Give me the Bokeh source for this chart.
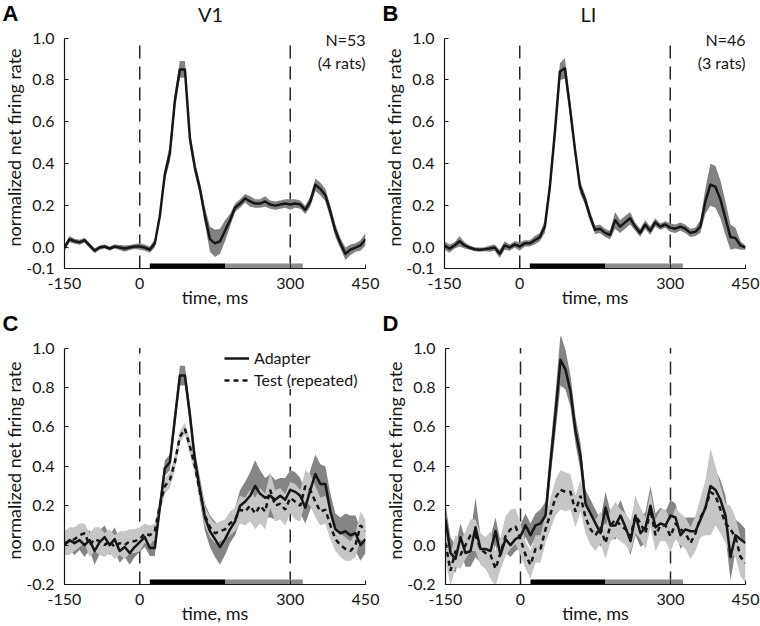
from bokeh.plotting import figure
from bokeh.layouts import row, column
from bokeh.models import Range1d, FixedTicker, NumeralTickFormatter, Label, Legend, LegendItem
from bokeh.embed import file_html
from bokeh.resources import INLINE

# ---------------- data ----------------
time_ms = list(range(-150, 451, 10))

# Panel A (V1, all responses)
v1_mean = [0.00, 0.04, 0.03, 0.025, 0.035, 0.01, -0.015, 0.0, 0.005, -0.005, 0.005, 0.0, -0.005, 0.0, 0.005,
           0.005, 0.0, -0.01, 0.02, 0.15, 0.35, 0.45, 0.70, 0.85, 0.85,
           0.52, 0.38, 0.28, 0.15, 0.04, 0.02, 0.03, 0.08, 0.13, 0.19,
           0.21, 0.235, 0.22, 0.21, 0.21, 0.22, 0.205, 0.20, 0.205, 0.21,
           0.205, 0.21, 0.205, 0.18, 0.22, 0.30, 0.28, 0.25, 0.17, 0.08,
           0.02, -0.03, -0.01, 0.0, 0.01, 0.04]
v1_sem = [0.015, 0.015, 0.012, 0.012, 0.012, 0.012, 0.012, 0.01, 0.01, 0.01, 0.01, 0.012, 0.015, 0.012, 0.012,
          0.015, 0.015, 0.015, 0.02, 0.02, 0.03, 0.04, 0.04, 0.04, 0.04,
          0.035, 0.03, 0.03, 0.04, 0.06, 0.065, 0.06, 0.05, 0.03, 0.02,
          0.02, 0.02, 0.025, 0.02, 0.02, 0.025, 0.02, 0.02, 0.02, 0.02,
          0.025, 0.02, 0.02, 0.02, 0.025, 0.03, 0.03, 0.03, 0.03, 0.03,
          0.025, 0.03, 0.025, 0.02, 0.025, 0.03]

# Panel B (LI, all responses)
li_mean = [0.01, -0.005, 0.01, 0.03, 0.01, 0.0, -0.008, -0.01, -0.008, -0.005, 0.0, -0.03, 0.01, 0.0, 0.015,
           0.005, 0.02, 0.02, 0.035, 0.05, 0.10, 0.29, 0.55, 0.84, 0.855,
           0.67, 0.47, 0.29, 0.23, 0.15, 0.085, 0.09, 0.07, 0.06, 0.13,
           0.10, 0.12, 0.14, 0.10, 0.07, 0.11, 0.08, 0.12, 0.10, 0.11,
           0.095, 0.09, 0.10, 0.09, 0.07, 0.075, 0.10, 0.22, 0.30, 0.29,
           0.23, 0.14, 0.05, 0.045, 0.01, 0.0]
li_sem = [0.02, 0.02, 0.015, 0.025, 0.015, 0.01, 0.01, 0.01, 0.01, 0.015, 0.015, 0.02, 0.02, 0.015, 0.015,
          0.02, 0.015, 0.015, 0.02, 0.02, 0.03, 0.04, 0.04, 0.04, 0.05,
          0.04, 0.03, 0.03, 0.025, 0.025, 0.02, 0.02, 0.02, 0.02, 0.04,
          0.03, 0.03, 0.03, 0.02, 0.02, 0.02, 0.02, 0.02, 0.015, 0.015,
          0.02, 0.02, 0.02, 0.02, 0.02, 0.02, 0.03, 0.06, 0.10, 0.10,
          0.09, 0.08, 0.06, 0.05, 0.02, 0.01]

# Panel C (V1, adapter vs repeated test)
v1_adapter_mean = [0.0, 0.025, 0.01, 0.025, 0.0, 0.025, -0.03, 0.015, 0.04, 0.0, 0.03, -0.03, -0.01, -0.04, -0.01,
                   0.015, 0.04, -0.015, -0.015, 0.19, 0.39, 0.42, 0.64, 0.86, 0.86,
                   0.66, 0.43, 0.28, 0.14, 0.07, 0.03, -0.01, 0.03, 0.08, 0.12,
                   0.20, 0.22, 0.25, 0.30, 0.26, 0.24, 0.25, 0.23, 0.25, 0.23,
                   0.28, 0.27, 0.25, 0.19, 0.28, 0.36, 0.31, 0.31, 0.17, 0.08,
                   0.06, 0.07, 0.05, 0.06, 0.0, 0.03]
v1_adapter_sem = [0.05, 0.05, 0.06, 0.05, 0.06, 0.05, 0.07, 0.06, 0.06, 0.05, 0.06, 0.06, 0.05, 0.06, 0.05,
                  0.05, 0.05, 0.04, 0.04, 0.04, 0.04, 0.04, 0.05, 0.05, 0.05,
                  0.05, 0.05, 0.06, 0.07, 0.08, 0.09, 0.09, 0.08, 0.07, 0.07,
                  0.08, 0.10, 0.12, 0.13, 0.12, 0.10, 0.11, 0.10, 0.09, 0.11,
                  0.10, 0.10, 0.09, 0.08, 0.10, 0.10, 0.10, 0.09, 0.09, 0.08,
                  0.08, 0.09, 0.10, 0.09, 0.08, 0.07]
v1_test_mean = [0.01, 0.02, 0.03, 0.05, 0.06, 0.0, 0.03, 0.02, 0.0, 0.02, -0.01, 0.01, 0.0, 0.02, 0.02,
                0.03, 0.06, 0.05, 0.07, 0.20, 0.30, 0.33, 0.42, 0.55, 0.59,
                0.50, 0.40, 0.27, 0.15, 0.09, 0.06, 0.07, 0.08, 0.11, 0.13,
                0.18, 0.17, 0.20, 0.16, 0.20, 0.17, 0.28, 0.20, 0.21, 0.18,
                0.24, 0.22, 0.20, 0.30, 0.28, 0.22, 0.17, 0.18, 0.10, 0.03,
                0.0, -0.02, -0.03, 0.0, 0.10, 0.07]
v1_test_sem = [0.06, 0.07, 0.06, 0.06, 0.05, 0.06, 0.06, 0.07, 0.06, 0.06, 0.06, 0.06, 0.07, 0.06, 0.06,
               0.06, 0.05, 0.05, 0.04, 0.04, 0.04, 0.04, 0.04, 0.03, 0.03,
               0.04, 0.04, 0.05, 0.05, 0.05, 0.05, 0.05, 0.05, 0.06, 0.06,
               0.07, 0.07, 0.08, 0.08, 0.09, 0.09, 0.09, 0.08, 0.08, 0.08,
               0.08, 0.09, 0.08, 0.08, 0.08, 0.08, 0.07, 0.07, 0.07, 0.06,
               0.06, 0.06, 0.05, 0.06, 0.07, 0.06]

# Panel D (LI, adapter vs repeated test)
li_adapter_mean = [0.13, -0.04, -0.07, 0.04, -0.04, -0.03, 0.09, -0.02, -0.02, -0.03, 0.07, -0.05, 0.03, 0.0, 0.03,
                   0.045, 0.10, 0.05, 0.10, 0.11, 0.15, 0.42, 0.67, 0.94, 0.89,
                   0.78, 0.58, 0.45, 0.21, 0.16, 0.11, 0.06, 0.19, 0.10, 0.10,
                   0.15, 0.09, 0.02, 0.15, 0.06, 0.09, 0.20, 0.09, 0.11, 0.10,
                   0.15, 0.14, 0.05, 0.08, 0.07, 0.07, 0.13, 0.19, 0.30, 0.28,
                   0.23, 0.15, -0.06, 0.05, 0.03, 0.01]
li_adapter_sem = [0.08, 0.08, 0.07, 0.07, 0.07, 0.08, 0.15, 0.07, 0.06, 0.07, 0.07, 0.07, 0.07, 0.06, 0.06,
                  0.06, 0.06, 0.06, 0.06, 0.07, 0.07, 0.08, 0.10, 0.13, 0.10,
                  0.08, 0.07, 0.07, 0.07, 0.07, 0.07, 0.07, 0.08, 0.07, 0.07,
                  0.08, 0.07, 0.07, 0.10, 0.07, 0.08, 0.10, 0.07, 0.08, 0.07,
                  0.08, 0.07, 0.07, 0.06, 0.07, 0.07, 0.08, 0.09, 0.10, 0.10,
                  0.10, 0.10, 0.12, 0.08, 0.08, 0.07]
li_test_mean = [0.01, -0.13, -0.03, -0.05, 0.0, 0.05, 0.05, -0.02, -0.04, -0.05, -0.12, -0.04, 0.045, 0.08, 0.095,
                0.03, -0.05, -0.10, -0.02, -0.02, 0.08, 0.16, 0.24, 0.28, 0.27,
                0.27, 0.17, 0.25, 0.14, 0.08, 0.05, 0.09, 0.01, 0.10, 0.13,
                0.10, 0.08, 0.045, 0.15, 0.11, 0.06, 0.18, 0.05, 0.10, 0.10,
                0.045, 0.11, 0.08, 0.06, 0.01, 0.06, 0.14, 0.19, 0.27, 0.25,
                0.18, 0.11, 0.08, 0.04, -0.06, -0.09]
li_test_sem = [0.08, 0.08, 0.08, 0.07, 0.07, 0.08, 0.08, 0.08, 0.08, 0.12, 0.09, 0.08, 0.10, 0.10, 0.09,
               0.08, 0.07, 0.07, 0.07, 0.07, 0.07, 0.08, 0.09, 0.10, 0.10,
               0.09, 0.08, 0.08, 0.08, 0.08, 0.08, 0.08, 0.08, 0.08, 0.09,
               0.08, 0.08, 0.08, 0.09, 0.08, 0.08, 0.09, 0.08, 0.08, 0.08,
               0.08, 0.08, 0.08, 0.08, 0.08, 0.09, 0.10, 0.14, 0.22, 0.15,
               0.12, 0.10, 0.12, 0.10, 0.10, 0.10]

event_times = [0, 300]
adapter_period = [20, 170]
test_period = [170, 325]
x_ticks = [-150, 0, 300, 450]
x_tick_labels = ["-150", "0", "300", "450"]
y_ticks_top = [-0.1, 0.0, 0.2, 0.4, 0.6, 0.8, 1.0]
y_ticks_bottom = [-0.2, 0.0, 0.2, 0.4, 0.6, 0.8, 1.0]
panel_letters = ["A", "B", "C", "D"]
area_titles = ["V1", "LI"]
cell_counts = ["N=53", "N=46"]
rat_counts = ["(4 rats)", "(3 rats)"]
legend_labels = ["Adapter", "Test (repeated)"]

# ---------------- styling ----------------
FONT = "Lato"
LETTER_FONT = "Liberation Sans"
INK = "#161616"
BAND_SINGLE = "#828282"
BAND_DARK = "#858585"
BAND_LIGHT = "#c6c6c6"
BAR_GRAY = "#8c8c8c"
BAR_PX = 5
Y_TOP = 1.0


def make_panel(width, height, ymin, yticks, bl, br, bb, top_gap):
    frame_h = height - bb
    ppu = (frame_h - top_gap) / (Y_TOP - ymin)
    ymax = Y_TOP + top_gap / ppu
    p = figure(width=width, height=height,
               x_range=Range1d(x_ticks[0], x_ticks[-1]), y_range=Range1d(ymin, ymax),
               output_backend="svg", toolbar_location=None,
               min_border_left=bl, min_border_right=br, min_border_top=0, min_border_bottom=bb)
    p.title.visible = False
    p.outline_line_color = None
    p.xgrid.visible = False
    p.ygrid.visible = False
    p.background_fill_color = "white"
    p.border_fill_color = "white"
    for ax in (p.xaxis[0], p.yaxis[0]):
        ax.axis_line_color = INK
        ax.axis_line_width = 1.2
        ax.major_tick_in = 4
        ax.major_tick_out = 0
        ax.major_tick_line_color = INK
        ax.minor_tick_line_color = None
        ax.major_label_text_font = FONT
        ax.major_label_text_font_size = "16px"
        ax.major_label_text_line_height = 1.0
        ax.major_label_text_color = INK
        ax.axis_label_text_font = FONT
        ax.axis_label_text_font_size = "18px"
        ax.axis_label_text_line_height = 1.0
        ax.axis_label_text_font_style = "normal"
        ax.axis_label_text_color = INK
    xa = p.xaxis[0]
    xa.ticker = FixedTicker(ticks=x_ticks)
    xa.major_label_overrides = dict(zip(x_ticks, x_tick_labels))
    xa.major_label_standoff = 9
    xa.axis_label = "time, ms"
    xa.axis_label_standoff = -6
    ya = p.yaxis[0]
    ya.ticker = FixedTicker(ticks=yticks)
    ya.formatter = NumeralTickFormatter(format="0.0")
    ya.bounds = (ymin, Y_TOP)
    ya.major_label_standoff = 10
    ya.axis_label = "normalized net firing rate"
    ya.axis_label_standoff = -2
    return p, ppu


def add_band(p, mean, sem, color):
    lo = [m - s for m, s in zip(mean, sem)]
    hi = [m + s for m, s in zip(mean, sem)]
    p.varea(x=time_ms, y1=lo, y2=hi, fill_color=color, fill_alpha=1.0)


def add_events(p, ymin):
    p.segment(x0=event_times, x1=event_times, y0=[ymin] * len(event_times),
              y1=[Y_TOP] * len(event_times),
              line_color="#262626", line_width=1.5, line_dash="13 8")


def add_bars(p, ymin, ppu):
    top = ymin + BAR_PX / ppu
    p.quad(left=[adapter_period[0]], right=[adapter_period[1]], bottom=[ymin], top=[top],
           fill_color="black", line_color=None)
    p.quad(left=[test_period[0]], right=[test_period[1]], bottom=[ymin], top=[top],
           fill_color=BAR_GRAY, line_color=None)


def add_counts(p, count, rats, dy1, dy2):
    p.add_layout(Label(x=x_ticks[-1], y=Y_TOP, text=count, y_offset=dy1,
                       text_align="right", text_baseline="middle", text_line_height=1.0,
                       text_font=FONT, text_font_size="16px", text_color=INK))
    p.add_layout(Label(x=x_ticks[-1], y=Y_TOP, text=rats, y_offset=dy2,
                       text_align="right", text_baseline="middle", text_line_height=1.0,
                       text_font=FONT, text_font_size="16px", text_color=INK))


def make_header(height):
    h = figure(width=760, height=height, x_range=Range1d(0, 760), y_range=Range1d(0, height),
               x_axis_type=None, y_axis_type=None, output_backend="svg", toolbar_location=None,
               min_border=0, min_border_left=0, min_border_right=0,
               min_border_top=0, min_border_bottom=0)
    h.title.visible = False
    h.outline_line_color = None
    h.background_fill_color = "white"
    h.border_fill_color = "white"
    return h


def header_letter(h, letter, x, y):
    h.add_layout(Label(x=x, y=y, text=letter, text_align="left", text_baseline="middle",
                       text_line_height=1.0, text_font=LETTER_FONT, text_font_style="bold",
                       text_font_size="22px", text_color="black"))


def header_title(h, title, x, y):
    h.add_layout(Label(x=x, y=y, text=title, text_align="center", text_baseline="middle",
                       text_line_height=1.0, text_font=FONT, text_font_size="20px",
                       text_color=INK))


W = 380
H_HEAD1, H_ROW1, H_HEAD2, H_ROW2 = 26, 284, 26, 290
BB = 42
TOP_GAP = 11.5

# ---------- header row 1 ----------
head1 = make_header(H_HEAD1)
header_letter(head1, panel_letters[0], 2, 13)
header_letter(head1, panel_letters[1], 382, 13)
header_title(head1, area_titles[0], 210, 13)
header_title(head1, area_titles[1], 588, 13)

# ---------- Panel A ----------
pA, ppuA = make_panel(W, H_ROW1, -0.1, y_ticks_top, 60, 15, BB, TOP_GAP)
add_events(pA, -0.1)
add_band(pA, v1_mean, v1_sem, BAND_SINGLE)
pA.line(time_ms, v1_mean, line_color=INK, line_width=2.5, line_join="round")
add_bars(pA, -0.1, ppuA)
add_counts(pA, cell_counts[0], rat_counts[0], -1.5, -24.5)

# ---------- Panel B ----------
pB, ppuB = make_panel(W, H_ROW1, -0.1, y_ticks_top, 63, 15, BB, TOP_GAP)
add_events(pB, -0.1)
add_band(pB, li_mean, li_sem, BAND_SINGLE)
pB.line(time_ms, li_mean, line_color=INK, line_width=2.5, line_join="round")
add_bars(pB, -0.1, ppuB)
add_counts(pB, cell_counts[1], rat_counts[1], -1.5, -24.5)

# ---------- header row 2 ----------
head2 = make_header(H_HEAD2)
header_letter(head2, panel_letters[2], 2, 13)
header_letter(head2, panel_letters[3], 382, 13)

# ---------- Panel C ----------
pC, ppuC = make_panel(W, H_ROW2, -0.2, y_ticks_bottom, 60, 15, BB, TOP_GAP)
add_events(pC, -0.2)
add_band(pC, v1_adapter_mean, v1_adapter_sem, BAND_DARK)
add_band(pC, v1_test_mean, v1_test_sem, BAND_LIGHT)
rC1 = pC.line(time_ms, v1_adapter_mean, line_color=INK, line_width=2.5, line_join="round")
rC2 = pC.line(time_ms, v1_test_mean, line_color=INK, line_width=2.5, line_dash="5 4")
add_bars(pC, -0.2, ppuC)
legend = Legend(items=[LegendItem(label=legend_labels[0], renderers=[rC1]),
                       LegendItem(label=legend_labels[1], renderers=[rC2])],
                location=(160, 195), orientation="vertical",
                label_text_font=FONT, label_text_font_size="16px", label_text_color=INK,
                label_text_line_height=1.0,
                glyph_width=25, glyph_height=16, label_standoff=5, spacing=3,
                padding=2, margin=0, border_line_color=None,
                background_fill_color="white", background_fill_alpha=1.0)
pC.add_layout(legend)

# ---------- Panel D ----------
pD, ppuD = make_panel(W, H_ROW2, -0.2, y_ticks_bottom, 65, 15, BB, TOP_GAP)
add_events(pD, -0.2)
add_band(pD, li_adapter_mean, li_adapter_sem, BAND_DARK)
add_band(pD, li_test_mean, li_test_sem, BAND_LIGHT)
pD.line(time_ms, li_adapter_mean, line_color=INK, line_width=2.5, line_join="round")
pD.line(time_ms, li_test_mean, line_color=INK, line_width=2.5, line_dash="5 4")
add_bars(pD, -0.2, ppuD)

layout = column(head1, row(pA, pB), head2, row(pC, pD))
open("out.html", "w").write(file_html(layout, INLINE))
